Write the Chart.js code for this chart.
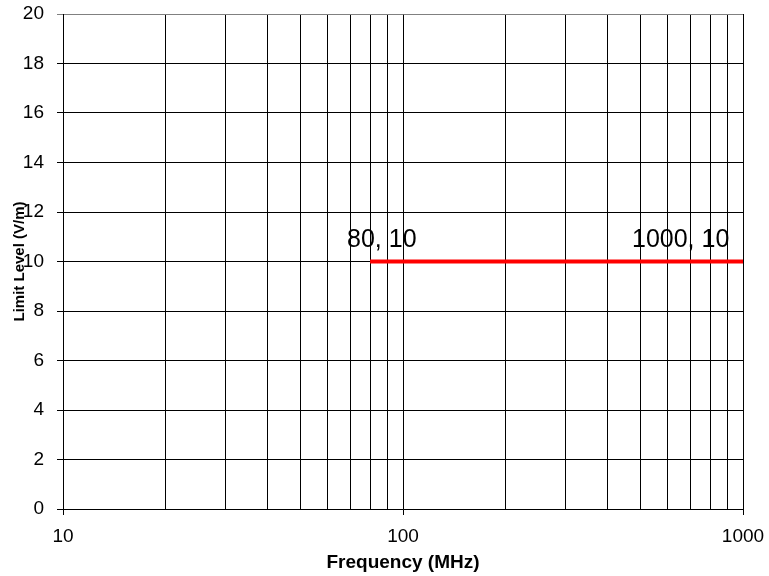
<!DOCTYPE html>
<html>
<head>
<meta charset="utf-8">
<script src="https://cdn.jsdelivr.net/npm/chart.js@4"></script>
<style>
  body { margin: 0; background: #fff; }
</style>
</head>
<body>
<canvas id="limitCanvas" width="769" height="576"></canvas>
<script>
const freqValues = [80, 1000];
const levelValues = [10, 10];
const pointLabels = ["80, 10", "1000, 10"];
const xTickLabels = [10, 100, 1000];

const limitCanvas = document.getElementById("limitCanvas");

var points = [];
for (let i = 0; i < freqValues.length; i++) {
  points.push({ x: freqValues[i], y: levelValues[i] });
}

// log grid: 1..9 in each decade, labels only on the decades
var xGridValues = [];
for (let d = 10; d < 1000; d *= 10) {
  for (let m = 1; m < 10; m++) xGridValues.push(m * d);
}
xGridValues.push(1000);

// labels beside the points, like the spreadsheet does it
const labelShift = [-23, -111];
const pointLabelPlugin = {
  id: "pointLabels",
  afterDatasetsDraw(chart) {
    const c = chart.ctx;
    const xs = chart.scales.x, ys = chart.scales.y;
    c.save();
    c.font = "25px 'Liberation Sans', Arial, sans-serif";
    c.fillStyle = "#000";
    c.textAlign = "left";
    c.textBaseline = "alphabetic";
    for (let i = 0; i < points.length; i++) {
      const px = xs.getPixelForValue(points[i].x);
      const py = ys.getPixelForValue(points[i].y);
      c.fillText(pointLabels[i], px + labelShift[i], py - 15);
    }
    c.restore();
  }
};

const isMajor = v => xTickLabels.includes(v);

new Chart(limitCanvas, {
  type: "line",
  data: {
    datasets: [{
      data: points,
      borderColor: "#ff0000",
      borderWidth: 4,
      pointRadius: 0,
      fill: false
    }]
  },
  options: {
    responsive: false,
    animation: false,
    layout: { padding: { left: 0, right: 26, top: 14, bottom: 0 } },
    plugins: {
      legend: { display: false },
      tooltip: { enabled: false }
    },
    scales: {
      x: {
        type: "logarithmic",
        min: 10,
        max: 1000,
        afterBuildTicks: s => { s.ticks = xGridValues.map(v => ({ value: v, major: isMajor(v) })); },
        afterFit: s => { s.height = 67; s.paddingLeft = 0; s.paddingRight = 0; },
        grid: {
          color: "#000",
          lineWidth: 1,
          tickLength: 6,
          tickColor: ctx => isMajor(ctx.tick.value) ? "#000" : "rgba(0,0,0,0)"
        },
        border: { color: "#000", width: 1 },
        ticks: {
          autoSkip: false,
          maxRotation: 0,
          padding: 10,
          color: "#000",
          font: { family: "'Liberation Sans', Arial, sans-serif", size: 19 },
          callback: v => isMajor(v) ? String(v) : ""
        },
        title: {
          display: true,
          text: "Frequency (MHz)",
          color: "#000",
          padding: { top: 0, bottom: 2 },
          font: { family: "'Liberation Sans', Arial, sans-serif", size: 19, weight: "bold" }
        }
      },
      y: {
        min: 0,
        max: 20,
        afterFit: s => { s.width = 63; s.paddingTop = 0; s.paddingBottom = 0; },
        grid: {
          color: ctx => ctx.tick.value === 20 ? "#808080" : "#000",
          tickColor: ctx => ctx.tick.value === 20 ? "#808080" : "#000",
          lineWidth: 1,
          tickLength: 6
        },
        border: { color: "#000", width: 1 },
        ticks: {
          stepSize: 2,
          padding: 13,
          color: "#000",
          font: { family: "'Liberation Sans', Arial, sans-serif", size: 19 }
        },
        title: {
          display: true,
          text: "Limit Level (V/m)",
          color: "#000",
          padding: { top: 11, bottom: 0 },
          font: { family: "'Liberation Sans', Arial, sans-serif", size: 15, weight: "bold" }
        }
      }
    }
  },
  plugins: [pointLabelPlugin]
});
</script>
</body>
</html>
